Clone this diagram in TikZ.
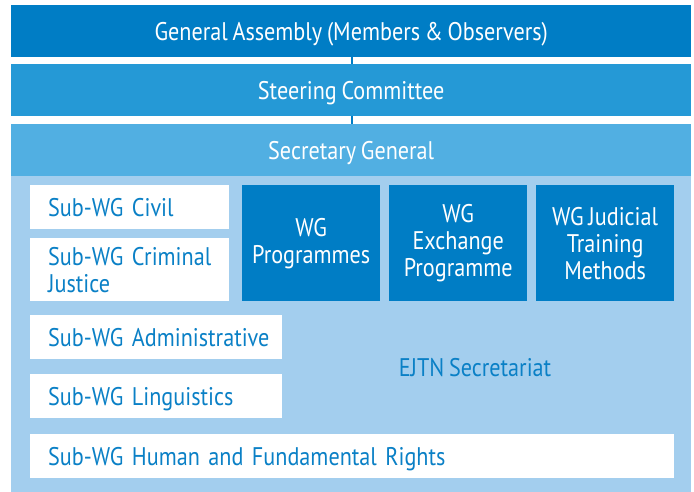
\documentclass[tikz,border=0pt]{standalone}
\usepackage{fontspec}
\setmainfont{PT Sans}[FakeStretch=0.87,WordSpace=0.8]
\definecolor{cA}{RGB}{0,125,197}
\definecolor{cB}{RGB}{37,153,214}
\definecolor{cC}{RGB}{81,175,226}
\definecolor{cD}{RGB}{163,206,238}
\definecolor{cT}{RGB}{10,128,198}
\hbadness=10000 \hfuzz=400pt
\newcommand{\orgfont}{\fontsize{25.5}{27}\selectfont}
\begin{document}
\begin{tikzpicture}[x=1pt,y=-1pt,
  txt/.style={font=\orgfont},
  one/.style={text height=18pt,text depth=0pt},
  bar/.style={txt,one,fill=#1,text=white,draw=none,anchor=north west,minimum width=680pt,minimum height=52pt,inner sep=0pt},
  wg/.style={txt,fill=cA,text=white,anchor=north west,minimum width=138pt,minimum height=116pt,inner sep=0pt,align=center},
  sub/.style={txt,fill=white,text=cT,anchor=north west,inner xsep=18pt,inner ysep=0pt,align=left,text width=#1},
  conn/.style={draw=cA,line width=2pt}]
\useasboundingbox (0,0) rectangle (694,492);
\fill[white] (0,0) rectangle (694,492);
\fill[cD] (11,176) rectangle (691,492);
\node[bar=cA] (ga) at (11,5) {General Assembly (Members \& Observers)};
\node[bar=cB] (sc) at (11,64) {Steering Committee};
\node[bar=cC] (sg) at (11,124) {Secretary General};
\draw[conn] ([xshift=1pt]ga.south) -- ([xshift=1pt]sc.north);
\draw[conn] ([xshift=1pt]sc.south) -- ([xshift=1pt]sg.north);
\node[sub=163pt,one,minimum height=44pt] (civ) at (30,185) {\mbox{Sub-WG Civil}};
\node[sub=163pt,minimum height=63pt] (crim) at (30,238) {\mbox{Sub-WG Criminal}\\Justice};
\node[wg] (prog) at (242,185) {WG\\Programmes};
\node[wg] (exch) at (389,185) {WG\\Exchange\\Programme};
\node[wg] (jud) at (536,185) {WG Judicial\\Training\\Methods};
\node[sub=216pt,one,minimum height=44pt] (adm) at (30,315) {\mbox{Sub-WG Administrative}};
\node[sub=216pt,one,minimum height=44pt] (ling) at (30,374) {\mbox{Sub-WG Linguistics}};
\node[sub=608pt,one,minimum height=44pt] (hum) at (30,434) {\mbox{Sub-WG Human and Fundamental Rights}};
\node[txt,one,text=cT] (ejtn) at (475,367) {EJTN Secretariat};
\end{tikzpicture}
\end{document}
